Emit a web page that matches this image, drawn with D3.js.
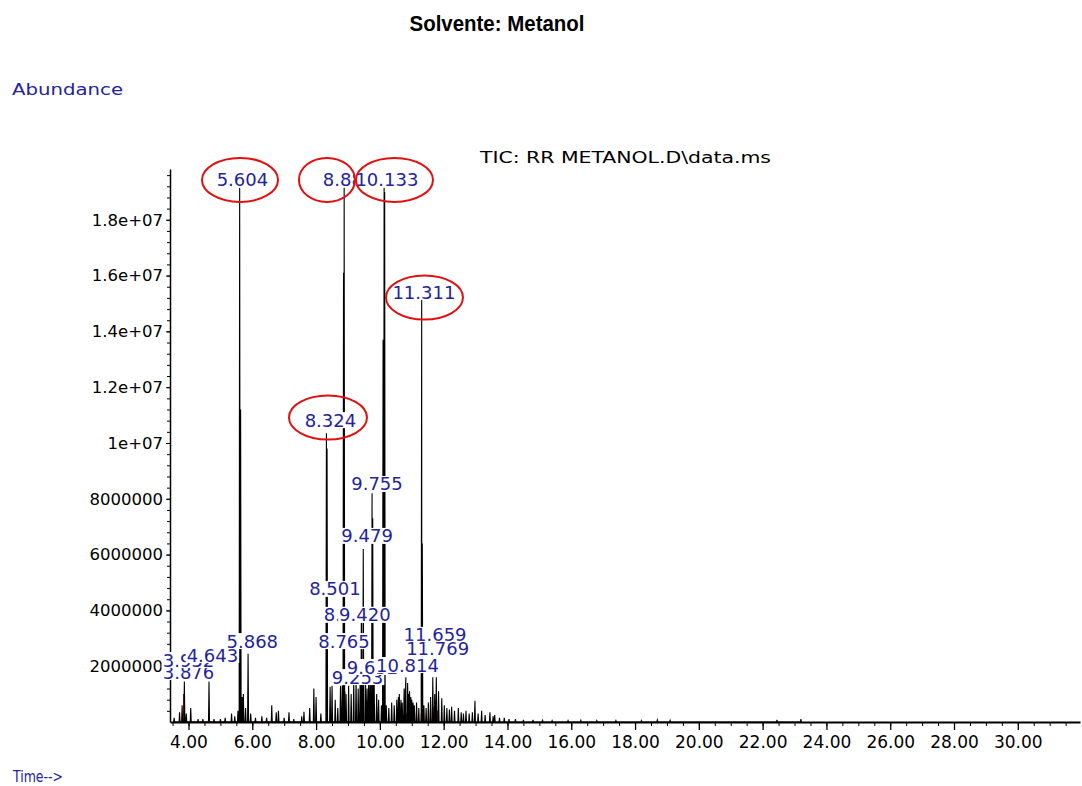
<!DOCTYPE html>
<html>
<head>
<meta charset="utf-8">
<script src="https://cdn.jsdelivr.net/npm/d3@7"></script>
<style>
  body { margin: 0; background: #fff; }
  svg { display: block; }
</style>
</head>
<body>
<svg id="chart"></svg>
<script>
// ---- data (time in min, abundance in counts) ----
var peakTimes = [3.55, 3.72, 3.80, 3.87, 3.93, 4.07, 4.30, 4.45, 4.643, 4.80, 5.00, 5.15, 5.35, 5.45, 5.55,
  5.604, 5.634, 5.68, 5.72, 5.79, 5.868, 5.95, 6.10, 6.30, 6.45, 6.61, 6.75, 6.82, 7.00, 7.15, 7.30, 7.55, 7.62,
  7.80, 7.93, 8.00, 8.15, 8.324, 8.344, 8.44, 8.501, 8.60, 8.68, 8.765, 8.82, 8.86, 8.880, 8.94, 9.02, 9.10, 9.18,
  9.253, 9.32, 9.38, 9.420, 9.479, 9.55, 9.60, 9.652, 9.70, 9.755, 9.775, 9.82, 9.90, 9.96, 10.05, 10.10, 10.133,
  10.15, 10.20, 10.28, 10.37, 10.45, 10.53, 10.58, 10.61, 10.66, 10.70, 10.76, 10.80, 10.814, 10.87, 10.90, 10.93,
  10.97, 11.00, 11.04, 11.08, 11.15, 11.22, 11.311, 11.33, 11.38, 11.45, 11.52, 11.59, 11.659, 11.72, 11.769,
  11.84, 11.94, 12.02, 12.10, 12.18, 12.25, 12.34, 12.46, 12.55, 12.62, 12.70, 12.80, 12.90, 12.98, 13.08, 13.19,
  13.30, 13.45, 13.55, 13.60, 13.75, 13.90, 14.05, 14.25, 14.50, 14.80, 15.10, 15.40, 15.90, 16.30, 16.80, 17.40,
  18.20, 18.70, 19.10, 22.45, 23.20];
var peakHeights = [0.15, 0.35, 0.6, 1.45, 0.3, 0.5, 0.1, 0.1, 1.45, 0.1, 0.1, 0.15, 0.3, 0.2, 0.4,
  19.5, 11.2, 0.9, 1.0, 0.5, 2.45, 0.3, 0.15, 0.2, 0.15, 0.6, 0.35, 0.4, 0.15, 0.35, 0.1, 0.2, 0.37,
  0.5, 1.2, 0.9, 0.3, 10.35, 9.8, 1.26, 1.3, 0.8, 0.5, 1.3, 1.3, 16.1, 19.5, 1.0, 1.3, 1.0, 1.5,
  1.6, 1.2, 1.4, 3.9, 6.2, 1.6, 1.2, 2.0, 1.6, 8.2, 7.3, 1.5, 1.0, 0.8, 0.6, 13.7, 19.5,
  19.0, 0.6, 0.5, 0.7, 0.6, 0.8, 0.9, 1.0, 0.8, 0.7, 1.2, 1.1, 1.6, 1.4, 1.0, 1.1,
  0.9, 0.8, 0.7, 0.6, 0.7, 0.5, 15.3, 6.4, 0.6, 0.5, 0.7, 0.9, 1.6, 1.0, 1.6,
  1.1, 0.85, 0.6, 0.5, 0.45, 0.55, 0.4, 0.5, 0.35, 0.3, 0.4, 0.3, 0.35, 0.76, 0.3, 0.4,
  0.25, 0.35, 0.2, 0.25, 0.15, 0.15, 0.1, 0.1, 0.08, 0.08, 0.06, 0.05, 0.05, 0.06, 0.05, 0.05,
  0.05, 0.07, 0.06, 0.08, 0.1].map(function (v) { return v * 1e6 });

var redTimes = [3.85, 5.60, 5.87, 8.33, 8.78, 8.90, 9.45, 9.60, 9.70, 9.90, 10.13, 10.85, 11.30, 11.70, 11.80];
var redHeights = [1.0, 0.15, 0.1, 0.2, 0.15, 1.1, 0.4, 0.3, 0.45, 0.2, 0.2, 0.3, 0.3, 0.55, 0.4].map(function (v) { return v * 1e6 });

// peak labels (drawn in this order), label centre time and abundance level
var labelTexts = ["3.876", "3.932", "4.643", "5.868", "5.604", "8.324", "8.501", "8.765", "8.927", "8.880",
  "9.253", "9.420", "9.479", "9.652", "9.755", "10.133", "10.814", "11.311", "11.659", "11.769"];
var labelTimes = [4.00, 4.00, 4.75, 6.00, 5.69, 8.45, 8.59, 8.875, 9.05, 9.02,
  9.30, 9.53, 9.60, 9.77, 9.91, 10.22, 10.865, 11.38, 11.73, 11.81];
var labelLevels = [1.79, 2.22, 2.40, 2.90, 19.43, 10.82, 4.77, 2.90, 3.84, 19.43,
  1.61, 3.84, 6.67, 1.97, 8.53, 19.43, 2.04, 15.41, 3.12, 2.62].map(function (v) { return v * 1e6 });

// red rings around the main peaks
var ringTimes = [5.615, 8.342, 10.458, 11.398, 8.373];
var ringLevels = [19.43, 19.43, 19.43, 15.215, 10.914].map(function (v) { return v * 1e6 });
var ringRx = [38, 28, 38.5, 38.5, 39];

var yTickValues = [2e6, 4e6, 6e6, 8e6, 1e7, 1.2e7, 1.4e7, 1.6e7, 1.8e7];
var yTickLabels = ["2000000", "4000000", "6000000", "8000000", "1e+07", "1.2e+07", "1.4e+07", "1.6e+07", "1.8e+07"];
var xTickValues = [4, 6, 8, 10, 12, 14, 16, 18, 20, 22, 24, 26, 28, 30];
var xTickLabels = ["4.00", "6.00", "8.00", "10.00", "12.00", "14.00", "16.00", "18.00", "20.00", "22.00", "24.00", "26.00", "28.00", "30.00"];

// ---- layout ----
var W = 1082, H = 786;
var svg = d3.select("#chart").attr("width", W).attr("height", H);

var xScale = d3.scaleLinear().domain([3.42, 31.95]).range([170, 1080]);
var yScale = d3.scaleLinear().domain([0, 1.982e7]).range([722, 169]);

var blue = "#23239c";
var halfWidth = 0.016;

function tracePoints(times, heights) {
  var pts = [];
  times.forEach(function (t, i) {
    pts.push([t - halfWidth, 0], [t, heights[i]], [t + halfWidth, 0]);
  });
  pts.sort(function (a, b) { return a[0] - b[0] });
  return pts;
}

var line = d3.line()
  .x(function (d) { return xScale(d[0]) })
  .y(function (d) { return yScale(d[1]) });

// title and captions
svg.append("text")
  .attr("x", 497).attr("y", 31)
  .attr("text-anchor", "middle")
  .attr("textLength", 175).attr("lengthAdjust", "spacingAndGlyphs")
  .style("font-family", "'Liberation Sans Narrow', 'Arial Narrow', 'Liberation Sans', sans-serif")
  .style("font-weight", "bold").style("font-size", "22px")
  .text("Solvente: Metanol");

svg.append("text")
  .attr("x", 12).attr("y", 95)
  .attr("textLength", 111).attr("lengthAdjust", "spacingAndGlyphs")
  .style("font-family", "'DejaVu Sans', sans-serif").style("font-size", "16px")
  .style("fill", blue)
  .text("Abundance");

svg.append("text")
  .attr("x", 13).attr("y", 782)
  .attr("textLength", 50).attr("lengthAdjust", "spacingAndGlyphs")
  .style("font-family", "'DejaVu Sans', sans-serif").style("font-size", "15px")
  .style("fill", blue)
  .text("Time-->");

svg.append("text")
  .attr("x", 480).attr("y", 163)
  .attr("textLength", 291).attr("lengthAdjust", "spacingAndGlyphs")
  .style("font-family", "'DejaVu Sans', sans-serif").style("font-size", "16px")
  .style("fill", "#000")
  .text("TIC: RR METANOL.D\\data.ms");

// traces
svg.append("path")
  .datum(tracePoints(redTimes, redHeights))
  .attr("d", line)
  .style("fill", "none").style("stroke", "#c00000").style("stroke-width", 1);

svg.append("path")
  .datum(tracePoints(peakTimes, peakHeights))
  .attr("d", line)
  .style("fill", "none").style("stroke", "#000").style("stroke-width", 1.1);

// axes
var yMinor = d3.axisLeft(yScale).tickValues(d3.range(4e5, 1.982e7, 4e5)).tickSize(3).tickFormat("").tickSizeOuter(0);
var yAxis = d3.axisLeft(yScale)
  .tickValues(yTickValues)
  .tickFormat(function (d, i) { return yTickLabels[i] })
  .tickSize(4).tickSizeOuter(0).tickPadding(3);

var gyMinor = svg.append("g").attr("transform", "translate(170,0)").call(yMinor);
gyMinor.select(".domain").remove();
var gy = svg.append("g").attr("transform", "translate(170,0)").call(yAxis);
gy.select(".domain").style("stroke-width", 1.5);
gy.selectAll("text")
  .style("font-family", "'DejaVu Sans', sans-serif").style("font-size", "16.5px").style("fill", "#000");

var xMinor = d3.axisBottom(xScale).tickValues(d3.range(3.5, 32, 0.5)).tickSize(4).tickFormat("").tickSizeOuter(0);
var xAxis = d3.axisBottom(xScale)
  .tickValues(xTickValues)
  .tickFormat(function (d, i) { return xTickLabels[i] })
  .tickSize(8).tickSizeOuter(0).tickPadding(6);

var gxMinor = svg.append("g").attr("transform", "translate(0,722)").call(xMinor);
gxMinor.select(".domain").remove();
var gx = svg.append("g").attr("transform", "translate(0,722)").call(xAxis);
gx.select(".domain").style("stroke-width", 2.2);
gx.selectAll("line").style("stroke-width", 1.3);
gx.selectAll("text")
  .style("font-family", "'DejaVu Sans', sans-serif").style("font-size", "17px").style("fill", "#000");

// peak labels with white backing boxes
var labels = svg.append("g");
labelTexts.forEach(function (txt, i) {
  var g = labels.append("g")
    .attr("transform", "translate(" + xScale(labelTimes[i]) + "," + yScale(labelLevels[i]) + ")");
  var box = g.append("rect").style("fill", "#fff");
  var t = g.append("text")
    .attr("text-anchor", "middle").attr("dy", "0.36em")
    .style("font-family", "'DejaVu Sans', sans-serif").style("font-size", "18px")
    .style("fill", blue)
    .text(txt);
  var bb = t.node().getBBox();
  box.attr("x", bb.x - 1).attr("y", -8).attr("width", bb.width + 2).attr("height", 16);
});

// red rings
svg.append("g").selectAll("ellipse")
  .data(ringTimes)
  .enter()
  .append("ellipse")
  .attr("cx", function (d) { return xScale(d) })
  .attr("cy", function (d, i) { return yScale(ringLevels[i]) })
  .attr("rx", function (d, i) { return ringRx[i] })
  .attr("ry", 22)
  .style("fill", "none").style("stroke", "#e01010").style("stroke-width", 2);
</script>
</body>
</html>
